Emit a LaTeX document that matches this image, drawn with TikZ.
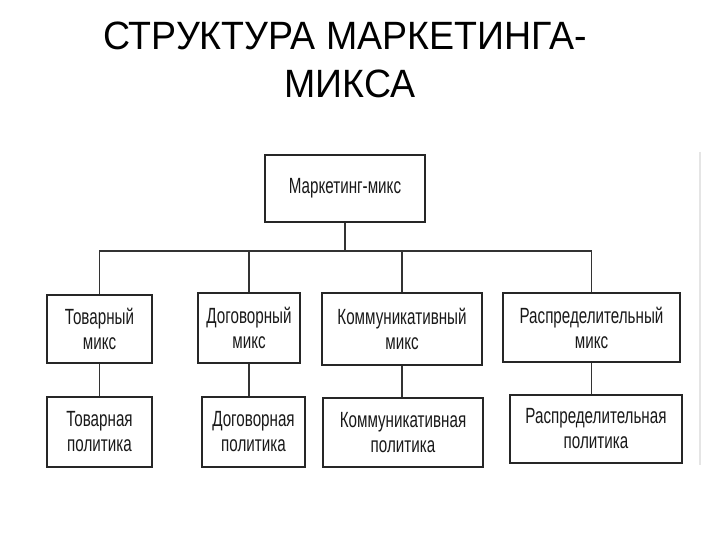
\documentclass[tikz,border=0pt]{standalone}
\usepackage{fontspec}
\setmainfont{Liberation Sans}
\newfontfamily\boxfont[FakeStretch=0.69]{Liberation Sans}
\newfontfamily\titlefont[FakeStretch=0.95]{Liberation Sans}
\begin{document}
\begin{tikzpicture}[x=1pt,y=-1pt,
  box/.style={draw=black!85, line width=1.3pt, inner sep=0pt, align=center,
    font=\boxfont\fontsize{22}{25}\selectfont, text=black!90},
  link/.style={draw=black!80, line width=1.1pt},
  ttl/.style={anchor=base, inner sep=0pt, font=\titlefont\fontsize{39.5}{48}\selectfont}]
\useasboundingbox (0,0) rectangle (720,540);
\fill[white] (0,0) rectangle (720,540);
% title
\node[ttl] (t1) at (345,50) {СТРУКТУРА МАРКЕТИНГА-};
\node[ttl] (t2) at (350,98) {МИКСА};
% top box
\node[box, minimum width=160pt, minimum height=67pt] (top) at (345,188.5) {Маркетинг-микс};
% row 2
\node[box, minimum width=105pt, minimum height=68pt] (b1) at (99.5,329) {Товарный\\микс};
\node[box, minimum width=102pt, minimum height=70pt] (b2) at (249,328) {Договорный\\микс};
\node[box, minimum width=160pt, minimum height=72pt] (b3) at (402,329) {Коммуникативный\\микс};
\node[box, minimum width=177pt, minimum height=69pt] (b4) at (591.5,327.5) {Распределительный\\микс};
% row 3
\node[box, minimum width=105pt, minimum height=70pt] (c1) at (99.5,432) {Товарная\\политика};
\node[box, minimum width=103pt, minimum height=70pt] (c2) at (253.5,432) {Договорная\\политика};
\node[box, minimum width=160pt, minimum height=69pt] (c3) at (403,432.5) {Коммуникативная\\политика};
\node[box, minimum width=172pt, minimum height=68pt] (c4) at (596,429) {Распределительная\\политика};
% bus
\coordinate (bus) at (0,251);
\draw[link] (top.south) -- (top.south |- bus);
\draw[link] (b1.north) -- (b1.north |- bus) -- (b4.north |- bus) -- (b4.north);
\draw[link] (b2.north) -- (b2.north |- bus);
\draw[link] (b3.north) -- (b3.north |- bus);
% row 2 to row 3
\draw[link] (b1.south) -- (b1.south |- c1.north);
\draw[link] (b2.south) -- (b2.south |- c2.north);
\draw[link] (b3.south) -- (b3.south |- c3.north);
\draw[link] (b4.south) -- (b4.south |- c4.north);
% faint scan edge
\coordinate (e1) at (700,152);
\coordinate (e2) at (700,465);
\draw[black!10, line width=1.5pt] (e1) -- (e2);
\end{tikzpicture}
\end{document}
